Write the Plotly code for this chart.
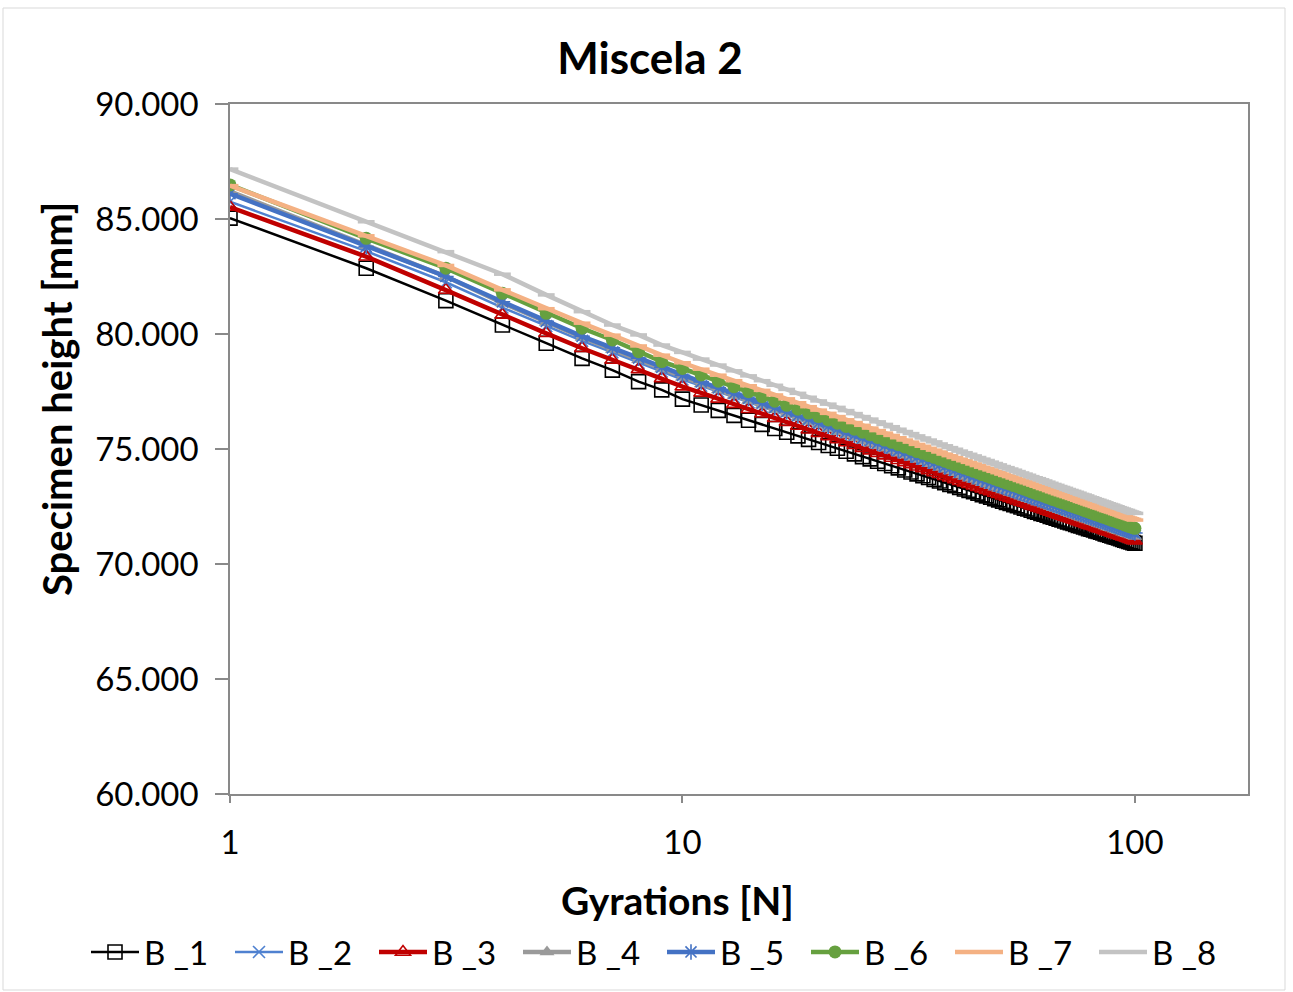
import plotly.graph_objects as go

# Gyratory compaction: specimen height after each gyration, eight specimens of mix 2
gyrations = list(range(1, 101))

b1 = [85.04, 82.86, 81.45, 80.39, 79.60, 78.94, 78.43, 77.93, 77.57, 77.17,
      76.91, 76.68, 76.46, 76.25, 76.07, 75.89, 75.73, 75.57, 75.42, 75.28,
      75.15, 75.03, 74.90, 74.79, 74.67, 74.57, 74.47, 74.37, 74.27, 74.18,
      74.09, 74.00, 73.92, 73.84, 73.76, 73.68, 73.61, 73.53, 73.46, 73.40,
      73.33, 73.26, 73.20, 73.14, 73.08, 73.01, 72.96, 72.90, 72.84, 72.79,
      72.73, 72.68, 72.63, 72.58, 72.53, 72.48, 72.43, 72.39, 72.34, 72.29,
      72.25, 72.20, 72.16, 72.12, 72.07, 72.03, 71.99, 71.95, 71.91, 71.87,
      71.83, 71.80, 71.76, 71.72, 71.68, 71.65, 71.61, 71.58, 71.54, 71.51,
      71.48, 71.44, 71.41, 71.38, 71.35, 71.31, 71.28, 71.25, 71.22, 71.19,
      71.16, 71.13, 71.10, 71.07, 71.04, 71.01, 70.98, 70.96, 70.93, 70.90]

b2 = [85.75, 83.60, 82.25, 81.15, 80.35, 79.70, 79.20, 78.75, 78.37, 78.02,
      77.75, 77.49, 77.25, 77.03, 76.82, 76.63, 76.45, 76.28, 76.12, 75.97,
      75.84, 75.71, 75.57, 75.45, 75.32, 75.21, 75.10, 74.99, 74.89, 74.78,
      74.69, 74.59, 74.50, 74.41, 74.32, 74.24, 74.16, 74.08, 74.00, 73.93,
      73.86, 73.79, 73.72, 73.66, 73.59, 73.52, 73.46, 73.39, 73.33, 73.27,
      73.21, 73.16, 73.10, 73.05, 72.99, 72.94, 72.88, 72.83, 72.78, 72.73,
      72.68, 72.64, 72.59, 72.54, 72.49, 72.44, 72.40, 72.35, 72.31, 72.27,
      72.24, 72.20, 72.16, 72.12, 72.08, 72.03, 72.00, 71.96, 71.92, 71.88,
      71.85, 71.81, 71.77, 71.74, 71.71, 71.67, 71.63, 71.60, 71.57, 71.53,
      71.50, 71.47, 71.44, 71.40, 71.37, 71.34, 71.31, 71.28, 71.25, 71.22]

b3 = [85.52, 83.36, 81.91, 80.83, 80.03, 79.38, 78.87, 78.46, 78.07, 77.71,
      77.44, 77.18, 76.95, 76.73, 76.53, 76.34, 76.17, 76.00, 75.84, 75.69,
      75.55, 75.42, 75.28, 75.16, 75.04, 74.93, 74.82, 74.71, 74.61, 74.51,
      74.42, 74.33, 74.23, 74.15, 74.07, 73.98, 73.90, 73.82, 73.75, 73.68,
      73.60, 73.54, 73.47, 73.40, 73.34, 73.27, 73.21, 73.15, 73.09, 73.03,
      72.97, 72.91, 72.86, 72.81, 72.75, 72.70, 72.65, 72.60, 72.54, 72.50,
      72.45, 72.40, 72.36, 72.31, 72.26, 72.22, 72.18, 72.13, 72.09, 72.05,
      72.01, 71.97, 71.93, 71.89, 71.85, 71.81, 71.77, 71.73, 71.69, 71.66,
      71.63, 71.59, 71.55, 71.52, 71.49, 71.45, 71.41, 71.39, 71.35, 71.32,
      71.29, 71.25, 71.22, 71.19, 71.16, 71.13, 71.10, 71.07, 71.04, 71.01]

b4 = [86.20, 83.85, 82.50, 81.35, 80.50, 79.85, 79.33, 78.88, 78.48, 78.12,
      77.83, 77.57, 77.33, 77.11, 76.90, 76.71, 76.53, 76.36, 76.20, 76.05,
      75.88, 75.75, 75.61, 75.49, 75.36, 75.25, 75.14, 75.03, 74.93, 74.82,
      74.73, 74.63, 74.54, 74.45, 74.36, 74.28, 74.20, 74.12, 74.04, 73.97,
      73.87, 73.80, 73.73, 73.67, 73.60, 73.53, 73.47, 73.40, 73.34, 73.28,
      73.22, 73.17, 73.11, 73.06, 73.00, 72.95, 72.89, 72.84, 72.79, 72.74,
      72.69, 72.65, 72.60, 72.55, 72.50, 72.45, 72.41, 72.36, 72.32, 72.28,
      72.23, 72.19, 72.15, 72.11, 72.07, 72.02, 71.99, 71.95, 71.91, 71.87,
      71.84, 71.80, 71.76, 71.73, 71.70, 71.65, 71.61, 71.58, 71.55, 71.51,
      71.48, 71.45, 71.42, 71.38, 71.35, 71.32, 71.29, 71.26, 71.23, 71.20]

b5 = [86.10, 83.80, 82.50, 81.40, 80.55, 79.90, 79.40, 78.95, 78.55, 78.20,
      77.92, 77.66, 77.42, 77.20, 76.99, 76.80, 76.62, 76.45, 76.29, 76.14,
      75.99, 75.86, 75.72, 75.60, 75.47, 75.36, 75.25, 75.14, 75.04, 74.93,
      74.84, 74.74, 74.65, 74.56, 74.47, 74.39, 74.31, 74.23, 74.15, 74.08,
      74.00, 73.93, 73.86, 73.80, 73.73, 73.66, 73.60, 73.53, 73.47, 73.41,
      73.35, 73.30, 73.24, 73.19, 73.13, 73.08, 73.02, 72.97, 72.92, 72.87,
      72.82, 72.78, 72.73, 72.68, 72.63, 72.58, 72.54, 72.49, 72.45, 72.41,
      72.37, 72.33, 72.29, 72.25, 72.21, 72.16, 72.13, 72.09, 72.05, 72.01,
      71.98, 71.94, 71.90, 71.87, 71.84, 71.80, 71.76, 71.73, 71.70, 71.66,
      71.63, 71.60, 71.57, 71.53, 71.50, 71.47, 71.44, 71.41, 71.38, 71.35]

b6 = [86.48, 84.16, 82.86, 81.77, 80.90, 80.25, 79.74, 79.23, 78.80, 78.50,
      78.22, 77.95, 77.71, 77.49, 77.28, 77.08, 76.90, 76.73, 76.56, 76.41,
      76.26, 76.12, 75.98, 75.86, 75.73, 75.62, 75.50, 75.39, 75.29, 75.19,
      75.09, 74.99, 74.89, 74.81, 74.72, 74.64, 74.55, 74.47, 74.39, 74.32,
      74.24, 74.17, 74.10, 74.03, 73.96, 73.89, 73.83, 73.77, 73.70, 73.64,
      73.58, 73.52, 73.47, 73.41, 73.36, 73.30, 73.25, 73.20, 73.14, 73.09,
      73.04, 73.00, 72.95, 72.90, 72.85, 72.80, 72.76, 72.71, 72.67, 72.63,
      72.59, 72.54, 72.50, 72.46, 72.42, 72.38, 72.34, 72.30, 72.26, 72.22,
      72.19, 72.15, 72.11, 72.08, 72.04, 72.01, 71.97, 71.94, 71.90, 71.87,
      71.84, 71.80, 71.77, 71.74, 71.70, 71.68, 71.64, 71.61, 71.58, 71.55]

b7 = [86.45, 84.27, 82.98, 81.92, 81.10, 80.47, 79.95, 79.48, 79.08, 78.75,
      78.47, 78.21, 77.97, 77.75, 77.55, 77.35, 77.18, 77.01, 76.84, 76.69,
      76.55, 76.41, 76.27, 76.15, 76.03, 75.91, 75.80, 75.69, 75.59, 75.49,
      75.39, 75.30, 75.20, 75.12, 75.03, 74.95, 74.87, 74.78, 74.71, 74.63,
      74.56, 74.49, 74.42, 74.35, 74.28, 74.21, 74.15, 74.09, 74.03, 73.97,
      73.91, 73.85, 73.80, 73.74, 73.69, 73.63, 73.58, 73.53, 73.48, 73.43,
      73.38, 73.33, 73.28, 73.24, 73.19, 73.14, 73.10, 73.05, 73.01, 72.97,
      72.93, 72.89, 72.85, 72.81, 72.77, 72.72, 72.69, 72.65, 72.61, 72.57,
      72.54, 72.50, 72.46, 72.43, 72.40, 72.36, 72.32, 72.29, 72.26, 72.23,
      72.19, 72.16, 72.13, 72.09, 72.06, 72.03, 72.00, 71.97, 71.94, 71.91]

b8 = [87.17, 84.88, 83.58, 82.60, 81.70, 80.97, 80.39, 79.96, 79.52, 79.20,
      78.91, 78.65, 78.40, 78.18, 77.97, 77.77, 77.59, 77.42, 77.25, 77.09,
      76.95, 76.81, 76.67, 76.54, 76.41, 76.30, 76.18, 76.07, 75.97, 75.86,
      75.76, 75.67, 75.57, 75.48, 75.39, 75.31, 75.22, 75.14, 75.06, 74.99,
      74.91, 74.84, 74.77, 74.70, 74.63, 74.56, 74.50, 74.43, 74.37, 74.31,
      74.24, 74.19, 74.13, 74.08, 74.02, 73.96, 73.91, 73.86, 73.80, 73.75,
      73.71, 73.66, 73.61, 73.56, 73.51, 73.46, 73.42, 73.37, 73.33, 73.29,
      73.24, 73.20, 73.16, 73.12, 73.08, 73.03, 73.00, 72.96, 72.91, 72.88,
      72.84, 72.80, 72.77, 72.73, 72.70, 72.66, 72.62, 72.59, 72.56, 72.52,
      72.49, 72.45, 72.42, 72.39, 72.35, 72.33, 72.29, 72.26, 72.23, 72.20]

series_names = ["B _1", "B _2", "B _3", "B _4", "B _5", "B _6", "B _7", "B _8"]
series_values = [b1, b2, b3, b4, b5, b6, b7, b8]

y_ticks = [60, 65, 70, 75, 80, 85, 90]
x_ticks = [1, 10, 100]

# line colour, line width, marker symbol, marker size, marker line width
styles = [
    ("#000000", 2.5, "square-open", 14, 1.6),
    ("#4F81D0", 2.5, "x-thin-open", 12, 1.6),
    ("#C00000", 4.5, "triangle-up-open", 13, 1.6),
    ("#9A9A9A", 4.5, "triangle-up", 13, 0),
    ("#4472C4", 4.5, "asterisk-open", 13, 1.6),
    ("#66A03F", 4.5, "circle", 13, 0),
    ("#F4B183", 4.5, "line-ew-open", 12, 3.5),
    ("#C3C3C3", 4.5, "line-ew-open", 12, 3.5),
]

FONT = "Lato"

fig = go.Figure()
for name, vals, (col, lw, sym, ms, mlw) in zip(series_names, series_values, styles):
    fig.add_trace(go.Scatter(
        x=gyrations, y=vals, name=name, mode="lines+markers",
        line=dict(color=col, width=lw),
        marker=dict(symbol=sym, size=ms, color=col,
                    line=dict(color=col, width=mlw)),
    ))

L, R, T, B = 230, 45, 104, 198
W, H = 1293, 992
pw, ph = W - L - R, H - T - B


def px(xp):
    return (xp - L) / pw


def py(yp):
    return (H - B - yp) / ph


fig.update_layout(
    width=W, height=H,
    margin=dict(l=L, r=R, t=T, b=B),
    paper_bgcolor="white", plot_bgcolor="white",
    font=dict(family=FONT, color="black", size=33),
    title=dict(text="<b>Miscela 2</b>", x=650 / W, xanchor="center",
               y=1 - 59 / H, yanchor="middle",
               font=dict(family=FONT, size=44, color="black")),
    showlegend=True,
    legend=dict(orientation="h", x=px(86), xanchor="left",
                y=py(952), yanchor="middle",
                font=dict(family=FONT, size=33, color="black"),
                entrywidth=81, entrywidthmode="pixels",
                itemwidth=48, tracegroupgap=0, bgcolor="rgba(0,0,0,0)"),
    annotations=[
        dict(text="<b>Specimen height [mm]</b>", xref="paper", yref="paper",
             x=px(57), y=py(399), textangle=-90, showarrow=False,
             xanchor="center", yanchor="middle",
             font=dict(family=FONT, size=40, color="black")),
        dict(text="<b>Gyrations [N]</b>", xref="paper", yref="paper",
             x=px(677), y=py(900), showarrow=False,
             xanchor="center", yanchor="middle",
             font=dict(family=FONT, size=39, color="black")),
    ],
    shapes=[
        dict(type="rect", xref="paper", yref="paper",
             x0=px(3), x1=px(1285), y0=py(990), y1=py(8),
             line=dict(color="#D9D9D9", width=1), fillcolor="rgba(0,0,0,0)",
             layer="below"),
    ],
)

fig.update_xaxes(
    type="log", range=[0, 2.25], tickvals=x_ticks, ticktext=[str(v) for v in x_ticks],
    showgrid=False, zeroline=False, showline=True, linecolor="#898989",
    linewidth=1.5, mirror=True, ticks="outside", ticklen=7, tickcolor="#898989",
    tickwidth=1.5, ticklabelstandoff=12,
    tickfont=dict(family=FONT, size=33, color="black"),
)
fig.update_yaxes(
    range=[60, 90], tickvals=y_ticks, tickformat=".3f",
    showgrid=False, zeroline=False, showline=True, linecolor="#898989",
    linewidth=1.5, mirror=True, ticks="outside", ticklen=13, tickcolor="#898989",
    tickwidth=1.5, ticklabelstandoff=10,
    tickfont=dict(family=FONT, size=33, color="black"),
)

fig.write_html("out.html")
